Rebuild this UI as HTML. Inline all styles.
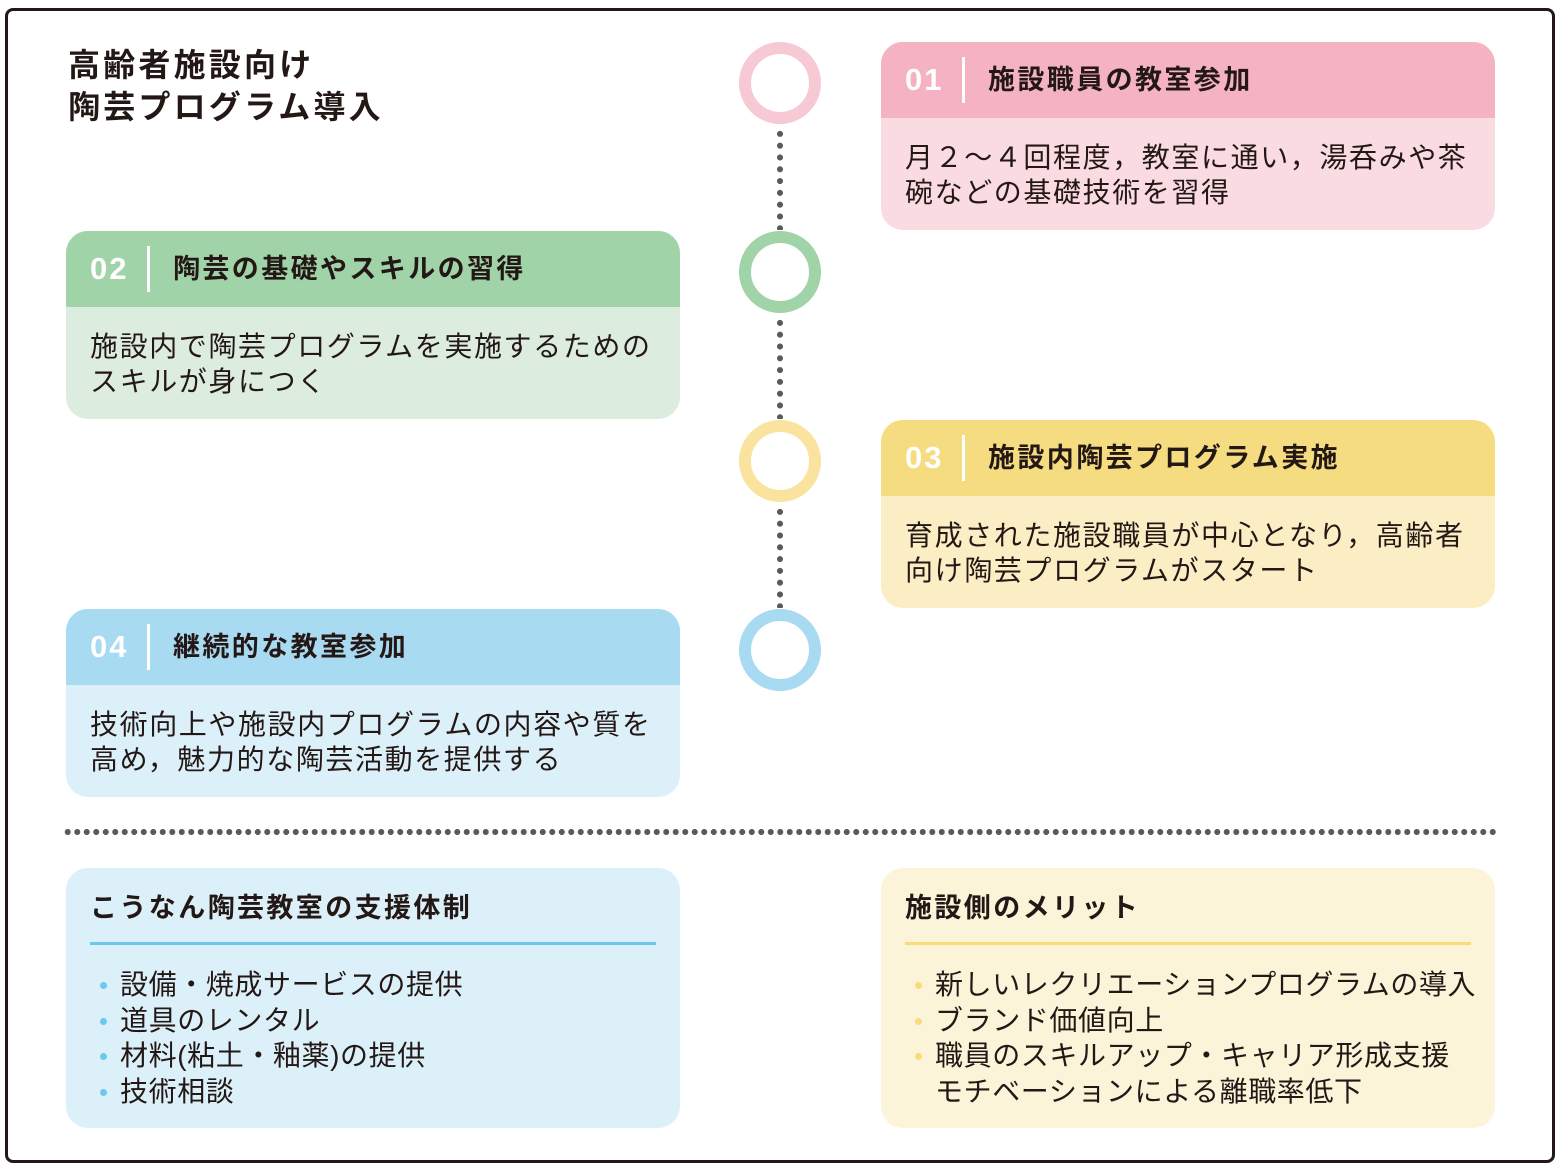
<!DOCTYPE html>
<html><head><meta charset="utf-8"><style>
*{margin:0;padding:0;box-sizing:border-box}
body{width:1561px;height:1170px;background:#fff;position:relative;overflow:hidden;font-family:"Liberation Sans","Noto Sans CJK JP",sans-serif;color:#231815}
.frame{position:absolute;left:5px;top:8px;width:1550px;height:1155px;border:3px solid #231815;border-radius:8px}
.title{position:absolute;left:68px;top:44px;font-size:32px;font-weight:bold;line-height:42px;letter-spacing:3.2px}
.card{position:absolute;width:614px;height:188px;border-radius:22px;overflow:hidden}
.hd{height:76px;position:relative}
.num{position:absolute;left:24px;top:18px;font-size:31px;font-weight:bold;color:#fff;line-height:40px;letter-spacing:2px}
.sep{position:absolute;left:81px;top:15px;width:3px;height:46px;background:#fff}
.ht{position:absolute;left:107px;top:19px;font-size:27px;font-weight:bold;line-height:38px;color:#231815;letter-spacing:2.4px}
.bd{position:absolute;left:24px;top:98px;font-size:28px;line-height:35px;color:#231815;letter-spacing:1.6px;white-space:nowrap}
.l{left:66px}.r{left:881px}
.circ{position:absolute;left:739px;width:82px;height:82px;border-radius:50%;border:12px solid}
.dots{position:absolute;left:777px;width:6px;background:radial-gradient(circle,#5a5a5a 2.8px,transparent 3.2px) 0 0/6px 11.8px repeat-y}
.hline{position:absolute;left:63px;top:829px;width:1436px;height:6px;background:radial-gradient(circle,#5a5a5a 2.8px,transparent 3.2px) 0 0/9.5px 6px repeat-x}
.box{position:absolute;top:868px;width:614px;height:260px;border-radius:22px}
.bt{position:absolute;left:24px;top:22px;font-size:27px;font-weight:bold;line-height:36px;letter-spacing:2.4px}
.bl{position:absolute;left:24px;top:74px;width:566px;height:3px}
.ul{position:absolute;left:30px;top:99px;font-size:28px;line-height:35.5px;list-style:none;letter-spacing:0.6px;white-space:nowrap}
.ul li{position:relative;padding-left:24px}
.ul li.b:before{content:"";position:absolute;left:4px;top:15px;width:7px;height:7px;border-radius:50%;background:var(--c)}
</style></head><body>
<div class="frame"></div>
<div class="title">高齢者施設向け<br>陶芸プログラム導入</div>

<div class="circ" style="top:42px;border-color:#f7c9d4"></div>
<div class="circ" style="top:231px;border-color:#a0d3a8"></div>
<div class="circ" style="top:420px;border-color:#f9e39e"></div>
<div class="circ" style="top:609px;border-color:#a8daf2"></div>
<div class="dots" style="top:128px;height:102px"></div>
<div class="dots" style="top:317px;height:102px"></div>
<div class="dots" style="top:506px;height:102px"></div>

<div class="card r" style="top:42px;background:#fadbe2"><div class="hd" style="background:#f4b2c2"><div class="num">01</div><div class="sep"></div><div class="ht">施設職員の教室参加</div></div><div class="bd">月２～４回程度，教室に通い，湯呑みや茶<br>碗などの基礎技術を習得</div></div>
<div class="card l" style="top:231px;background:#dcede0"><div class="hd" style="background:#a0d3a8"><div class="num">02</div><div class="sep"></div><div class="ht">陶芸の基礎やスキルの習得</div></div><div class="bd">施設内で陶芸プログラムを実施するための<br>スキルが身につく</div></div>
<div class="card r" style="top:420px;background:#fbeec4"><div class="hd" style="background:#f5dc80"><div class="num">03</div><div class="sep"></div><div class="ht">施設内陶芸プログラム実施</div></div><div class="bd">育成された施設職員が中心となり，高齢者<br>向け陶芸プログラムがスタート</div></div>
<div class="card l" style="top:609px;background:#dcf0f9"><div class="hd" style="background:#a8daf2"><div class="num">04</div><div class="sep"></div><div class="ht">継続的な教室参加</div></div><div class="bd">技術向上や施設内プログラムの内容や質を<br>高め，魅力的な陶芸活動を提供する</div></div>

<div class="hline"></div>

<div class="box l" style="background:#dcf0f9;--c:#6cc8ef"><div class="bt">こうなん陶芸教室の支援体制</div><div class="bl" style="background:#6cc8ef"></div>
<ul class="ul"><li class="b">設備・焼成サービスの提供</li><li class="b">道具のレンタル</li><li class="b">材料(粘土・釉薬)の提供</li><li class="b">技術相談</li></ul></div>
<div class="box r" style="background:#fcf4d9;--c:#f7dc7a"><div class="bt">施設側のメリット</div><div class="bl" style="background:#f7dc7a"></div>
<ul class="ul"><li class="b">新しいレクリエーションプログラムの導入</li><li class="b">ブランド価値向上</li><li class="b">職員のスキルアップ・キャリア形成支援</li><li>モチベーションによる離職率低下</li></ul></div>
</body></html>
